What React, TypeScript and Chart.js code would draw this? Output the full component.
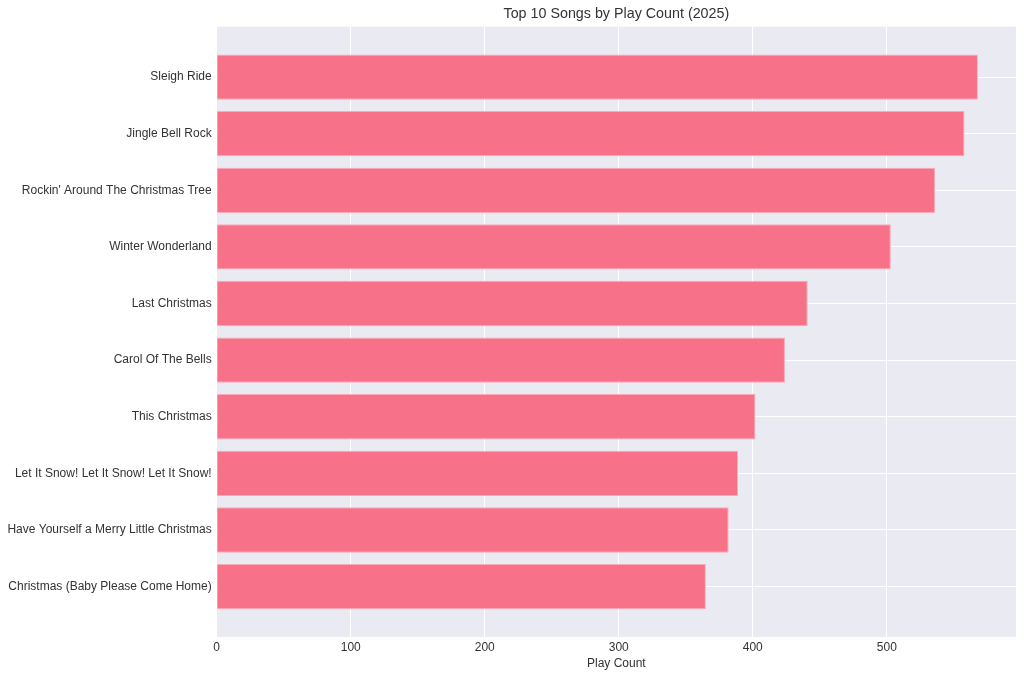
import React, { useEffect, useRef } from "react";
import { Chart, registerables } from "chart.js";

Chart.register(...registerables);

const songs = [
  "Sleigh Ride",
  "Jingle Bell Rock",
  "Rockin' Around The Christmas Tree",
  "Winter Wonderland",
  "Last Christmas",
  "Carol Of The Bells",
  "This Christmas",
  "Let It Snow! Let It Snow! Let It Snow!",
  "Have Yourself a Merry Little Christmas",
  "Christmas (Baby Please Come Home)",
];
const playCounts = [568, 558, 536, 503, 441, 424, 402, 389, 382, 365];
const xTicks = [0, 100, 200, 300, 400, 500];

const FONT = "'Liberation Sans', Arial, sans-serif";
const TEXT = "#333333";

export default function App() {
  const ref = useRef<HTMLCanvasElement | null>(null);
  useEffect(() => {
    if (!ref.current) return;
    const maxV = Math.max(...playCounts);
    const n = songs.length;
    const span = n - 1 + 0.8;
    const yMin = -0.4 - span * 0.05;
    const yMax = n - 1 + 0.4 + span * 0.05;
    const bgPlugin = {
      id: "plotBg",
      beforeDraw(chart: any) {
        const { ctx, chartArea } = chart;
        ctx.save();
        ctx.fillStyle = "#EAEAF2";
        ctx.fillRect(chartArea.left, chartArea.top, chartArea.right - chartArea.left, chartArea.bottom - chartArea.top);
        ctx.restore();
      },
    };
    const chart = new Chart(ref.current, {
      type: "bar",
      data: {
        datasets: [
          {
            label: "Play Count",
            data: playCounts.map((v, i) => ({ x: v, y: i })),
            backgroundColor: "rgb(247,114,137)",
            borderColor: "rgba(250,170,185,1)",
            borderWidth: 1,
            barPercentage: 0.8,
            categoryPercentage: 1.0,
          },
        ],
      },
      options: {
        indexAxis: "y",
        responsive: false,
        animation: false,
        layout: { padding: { left: 0, right: 8, top: 0, bottom: 0 } },
        plugins: {
          legend: { display: false },
          tooltip: { enabled: false },
          title: {
            display: true,
            text: "Top 10 Songs by Play Count (2025)",
            fullSize: false,
            color: TEXT,
            font: { family: FONT, size: 14.3, weight: "normal" },
            padding: { top: 5.5, bottom: 4 },
          },
        },
        scales: {
          x: {
            type: "linear",
            min: 0,
            max: maxV * 1.05,
            afterBuildTicks: (s: any) => {
              s.ticks = xTicks.map((v) => ({ value: v }));
            },
            grid: { color: "#FFFFFF", lineWidth: 1, drawTicks: false },
            border: { display: false },
            ticks: {
              color: TEXT,
              padding: 3,
              font: { family: FONT, size: 12 },
            },
            title: {
              display: true,
              text: "Play Count",
              color: TEXT,
              font: { family: FONT, size: 12 },
              padding: { top: 0, bottom: 7 },
            },
            afterFit: (s: any) => {
              s.height = 41;
            },
          },
          y: {
            type: "linear",
            reverse: true,
            offset: false,
            min: yMin,
            max: yMax,
            afterBuildTicks: (s: any) => {
              s.ticks = songs.map((_, i) => ({ value: i }));
            },
            grid: { color: "#FFFFFF", lineWidth: 1, drawTicks: false, offset: false },
            border: { display: false },
            ticks: {
              color: TEXT,
              padding: 5,
              autoSkip: false,
              font: { family: FONT, size: 12 },
              callback: (v: any) => songs[Math.round(Number(v))] ?? "",
            },
            afterFit: (s: any) => {
              s.width = 216.7;
            },
          },
        },
      },
      plugins: [bgPlugin],
    } as any);
    return () => chart.destroy();
  }, []);
  return (
    <div style={{ position: "absolute", left: 0, top: 0, width: 1024, height: 678, background: "#fff" }}>
      <canvas ref={ref} width={1024} height={678} style={{ width: 1024, height: 678, display: "block" }} />
    </div>
  );
}
